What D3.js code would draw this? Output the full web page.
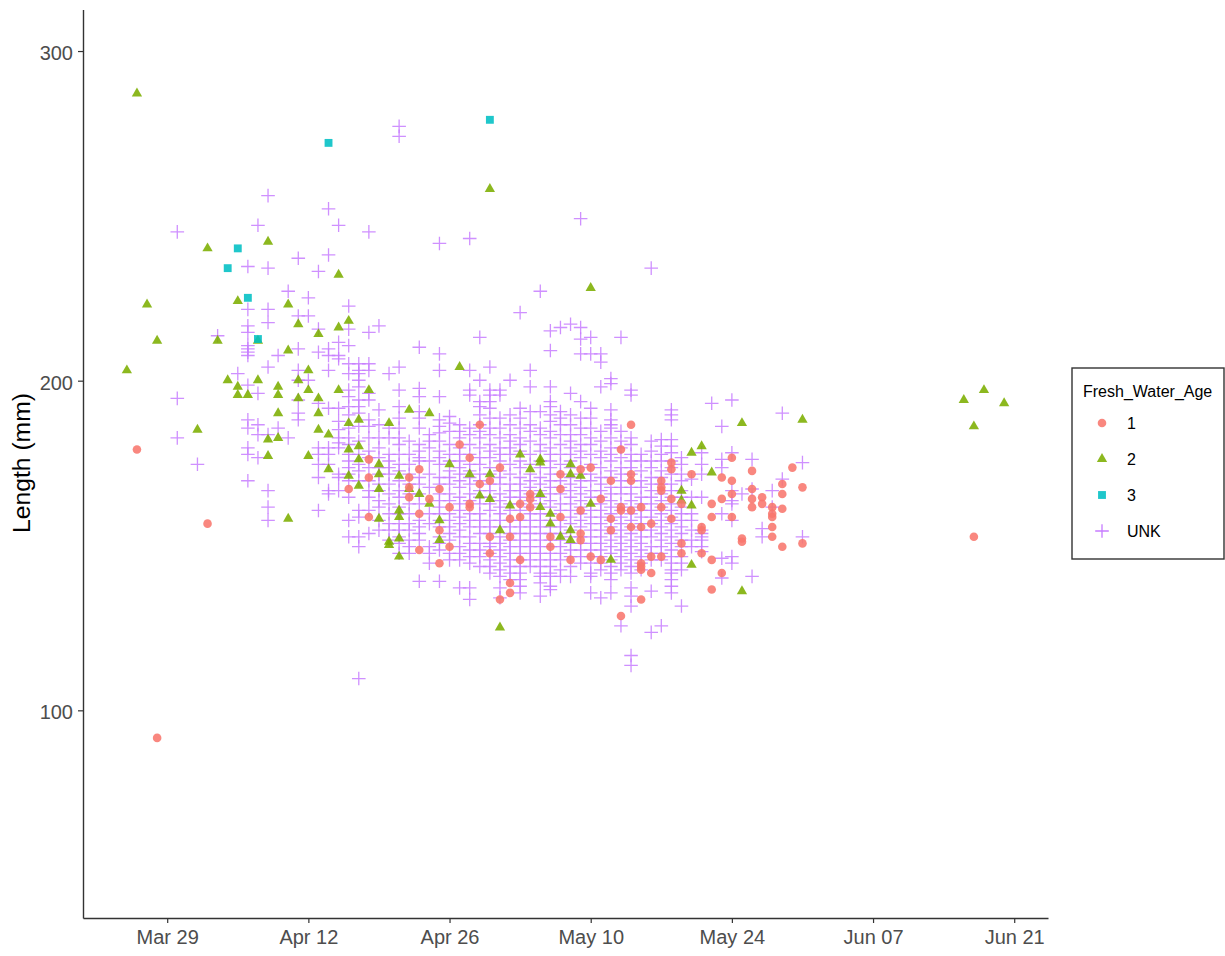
<!DOCTYPE html>
<html>
<head>
<meta charset="utf-8">
<script src="https://cdn.jsdelivr.net/npm/d3@7"></script>
<style>
  body { margin: 0; background: #fff; }
  text { font-family: "Liberation Sans", Arial, sans-serif; }
</style>
</head>
<body>
<svg id="chart" width="1225" height="956"></svg>
<script>
// every row: [days after Mar 29, lengths in mm]
const age1 = [
  [-3, [179.5]], [-1, [92]], [4, [157]],
  [18, [167.5]], [20, [176.5, 171, 159]],
  [24, [171, 168, 165]], [25, [173.5, 160, 149]], [26, [164.5]],
  [27, [167.5, 155, 145]], [28, [162, 150]], [29, [181]], [30, [177, 163, 162]],
  [31, [187, 169]], [32, [170, 153, 148]], [33, [174, 134]],
  [34, [158.5, 153, 139, 136]], [35, [163, 159, 146]], [36, [166, 164.5, 162]],
  [38, [153, 150]], [39, [172, 167.5, 159]], [40, [146]],
  [41, [173.5, 161, 154, 152]], [42, [174, 147]], [43, [164.5, 146]],
  [44, [170, 158.5, 155]], [45, [179.5, 162, 161, 129]],
  [46, [187, 172, 170, 161, 156]], [47, [162, 156, 145, 144, 143, 134]],
  [48, [157, 147, 142]], [49, [170, 168, 167, 162, 147]],
  [50, [175.5, 173.5, 164.5, 158.5]], [51, [163, 151, 148]], [52, [172]],
  [53, [156, 155, 148]], [54, [163, 159, 146, 137]], [55, [171, 164.5, 142]],
  [56, [177, 170, 166, 159]], [57, [152.5, 151.5]], [58, [173, 167.5, 164.5, 162]],
  [59, [165, 163]], [60, [162, 160, 159, 156, 153]], [61, [169, 166, 161.5, 150]],
  [62, [174]], [63, [168, 151]], [80, [153]]
];

const age2 = [
  [-4, [203.5]], [-3, [287.5]], [-2, [223.5]], [-1, [212.5]], [3, [185.5]],
  [4, [240.5]], [5, [212.5]], [6, [200.5]], [7, [224.5, 198.5, 196]], [8, [196]],
  [9, [212.5, 200.5]], [10, [242.5, 182.5, 177.5]], [11, [198.5, 196, 190.5, 183]],
  [12, [223.5, 209.5, 158.5]], [13, [217.5, 200.5, 195]], [14, [203.5, 197.5, 177.5]],
  [15, [214.5, 195, 190.5, 185.5]], [16, [184, 173.5]], [17, [232.5, 216.5, 197.5]],
  [18, [218.5, 187.5, 179.5, 171.5]], [19, [188.5, 180.5, 176.5, 168.5]],
  [20, [197.5]], [21, [175, 172, 167.5, 158.5]], [22, [187.5, 151.5, 150.5]],
  [23, [171.5, 161, 159, 152.5, 147]], [24, [191.5, 167.5]], [25, [166]],
  [26, [190.5, 163]], [27, [158, 152]], [28, [175]], [29, [204.5]], [30, [172]],
  [31, [165.5]], [32, [258.5, 172, 164.5]], [33, [155, 125.5]], [34, [162.5]],
  [35, [178]], [36, [173.5]], [37, [176.5, 175.5, 166, 162]], [38, [160, 157]],
  [39, [153]], [40, [175, 172, 155, 152]], [41, [171.5]], [42, [228.5, 163]],
  [44, [146]], [51, [167, 164]], [52, [178.5, 162.5, 144.5]], [53, [180.5]],
  [54, [172.5]], [57, [187.5, 136.5]], [63, [188.5]],
  [79, [194.5]], [80, [186.5]], [81, [197.5]], [83, [193.5]]
];

const age3 = [
  [6, [234.5]], [7, [240.5]], [8, [225.5]], [9, [213]], [16, [272.5]], [32, [279.5]]
];

const ageUnk = [
  [1, [245.5, 195, 183]], [3, [175]], [5, [214]], [7, [202.5]],
  [8, [235, 222, 217, 215, 211, 210, 209, 208, 199, 188.5, 186, 180, 178, 170]],
  [9, [247.5, 196.5, 187, 184, 177]],
  [10, [256.5, 234.5, 222, 218, 204.5, 184, 167, 162, 158]],
  [11, [208, 186]], [12, [227.5, 183]],
  [13, [237.5, 220, 210, 203.5, 200.5, 194.5, 190.5, 188.5]],
  [14, [225.5, 220, 200.5]],
  [15, [233.5, 216, 209, 193.5, 180, 178, 175, 171, 161]],
  [16, [252.5, 238.5, 210, 208, 203.5, 192, 180, 178, 175, 167, 166]],
  [17, [247.5, 212, 208, 207, 192, 188, 185.5, 183, 181.5, 180, 172, 171, 167]],
  [18, [223, 216, 211, 205.5, 202.5, 197.5, 195.5, 192.5, 190, 186, 183, 181, 178, 176, 174, 172, 170, 165, 158, 153]],
  [19, [205.5, 203.5, 202.5, 200.5, 198.5, 194.5, 192.5, 190.5, 186.5, 182, 178, 175, 173, 170, 161, 159, 153, 150, 110]],
  [20, [245.5, 215, 205.5, 203.5, 196.5, 194.5, 188.5, 186.5, 183, 179, 177, 174, 170, 167, 165, 161, 154]],
  [21, [217, 191.5, 187, 183, 180, 177, 174, 172, 169, 167, 164, 162, 158, 155]],
  [22, [202.5, 186, 183, 178, 176, 174, 172, 169, 166, 163, 160, 157, 155, 152]],
  [23, [277.5, 274.5, 204.5, 197.5, 192.5, 189, 186, 183, 181, 178, 175, 173, 170, 167, 165, 162, 160, 157, 155, 153, 151, 148]],
  [24, [182, 178, 175, 172, 169, 166, 163, 160, 157, 155, 152, 150, 148]],
  [25, [210.5, 198, 195.5, 191, 189, 186, 181, 179, 177, 176, 171, 169, 166, 163, 158, 156, 154, 152, 139.5]],
  [26, [184, 182, 180, 176, 172, 168, 160, 157, 150, 148, 145]],
  [27, [242, 208.5, 203.5, 195.5, 188.5, 186.5, 184.5, 182, 179, 177, 175, 171, 169, 166, 164, 162, 160, 158, 156, 153, 151, 149, 139.5]],
  [28, [189.5, 187.5, 185, 181, 178, 176, 173, 171, 169, 166, 164, 160, 158, 156, 154, 152, 148, 146]],
  [29, [187, 185, 183, 180, 178, 176, 174, 172, 170, 168, 165, 163, 161, 159, 157, 155, 153, 150, 148, 146, 137.5]],
  [30, [243.5, 203.5, 197.5, 196, 186, 184, 181, 178, 175, 173, 171, 169, 166, 164, 160, 158, 156, 153, 151, 149, 147, 145, 137.5, 134]],
  [31, [213.5, 200.5, 194, 192.5, 190, 187, 185, 183, 180, 177, 175, 172, 170, 167, 165, 163, 160, 158, 156, 154, 151, 149, 147, 144]],
  [32, [204.5, 197.5, 196, 194, 192, 189, 186, 184, 181, 179, 177, 174, 172, 169, 167, 165, 163, 161, 158, 156, 154, 151, 150, 148, 146, 144, 142]],
  [33, [197.5, 196, 189, 186, 183, 180, 178, 176, 173, 171, 169, 166, 164, 162, 160, 158, 156, 153, 151, 149, 147, 145, 143, 141, 137.5, 134.5]],
  [34, [200.5, 190, 187, 184, 182, 180, 178, 175, 172, 169, 167, 165, 163, 161, 158, 156, 154, 152, 150, 148, 146, 144, 142, 140]],
  [35, [221, 192, 189, 186, 183, 181, 179, 176, 174, 171, 169, 167, 165, 163, 161, 158, 156, 154, 152, 150, 148, 146, 144, 142, 140, 138, 136]],
  [36, [203.5, 198.5, 191, 187, 185, 182, 178, 175, 172, 170, 168, 166, 164, 162, 160, 158, 156, 154, 152, 150, 148, 146, 144]],
  [37, [227.5, 191, 186, 184, 181, 179, 176, 174, 171, 169, 167, 165, 163, 160, 158, 156, 154, 152, 150, 148, 146, 144, 142, 141, 139, 135]],
  [38, [215.5, 209.5, 198.5, 194, 192.5, 190, 188, 185, 183, 180, 178, 176, 174, 172, 170, 168, 166, 164, 162, 160, 158, 156, 154, 152, 150, 148, 146, 144, 142, 141, 138, 137]],
  [39, [216.5, 191, 189, 187, 184, 181, 178, 175, 172, 170, 168, 166, 163, 161, 158, 156, 154, 152, 150, 148, 146, 143, 141]],
  [40, [217.5, 196.5, 190, 187, 184, 182, 180, 178, 176, 174, 171, 169, 167, 165, 163, 161, 159, 157, 155, 153, 151, 149, 147, 144, 141]],
  [41, [249.5, 216.5, 213, 208.5, 194, 189, 186, 184, 181, 179, 177, 174, 172, 170, 168, 166, 164, 162, 160, 158, 156, 153, 151, 149, 147, 145]],
  [42, [213.5, 208.5, 192, 189, 186, 183, 181, 178, 175, 172, 170, 167, 165, 163, 161, 159, 157, 155, 153, 151, 149, 147, 145, 142, 141, 136]],
  [43, [208.5, 206, 198.5, 185, 182, 179, 177, 174, 171, 169, 167, 165, 163, 161, 159, 157, 155, 153, 151, 149, 147, 145, 143, 134.5]],
  [44, [201, 199.5, 191.5, 188.5, 187, 186, 183, 180, 178, 176, 173, 171, 168, 166, 164, 162, 160, 158, 156, 154, 152, 150, 148, 146, 144, 142, 140, 136]],
  [45, [213.5, 185, 182, 180, 177, 174, 172, 170, 168, 166, 163, 161, 159, 157, 155, 153, 151, 149, 147, 145, 143, 126]],
  [46, [197.5, 196, 183, 181, 178, 176, 174, 172, 170, 168, 166, 164, 162, 160, 158, 156, 154, 152, 150, 148, 146, 144, 142, 137.5, 135, 132, 117, 114]],
  [47, [178, 176, 173, 170, 168, 165, 163, 161, 159, 157, 155, 153, 151, 149, 147, 145, 143]],
  [48, [234.5, 182, 179, 176, 174, 171, 169, 167, 165, 163, 161, 159, 157, 155, 153, 150, 148, 146, 136.5, 124]],
  [49, [182.5, 180.5, 178, 176, 173, 171, 169, 166, 164, 162, 160, 158, 156, 154, 152, 150, 148, 146, 126]],
  [50, [191.5, 190, 188.5, 182.5, 180.5, 178.5, 176, 174, 172, 169, 167, 165, 163, 161, 159, 157, 155, 153, 151, 149, 147, 145, 143, 142, 140, 138, 136]],
  [51, [177, 175, 172, 170, 167, 165, 162, 160, 158, 156, 154, 152, 150, 147, 145, 143, 132]],
  [52, [170.5, 165, 160, 158, 155, 152, 150]],
  [53, [178.5, 175, 172, 165, 155, 154, 153, 152, 150, 148.5]],
  [54, [193.5]], [55, [186.5, 176.5, 174, 160, 146.5, 140.5]],
  [56, [194.5, 178.5, 167, 164, 163, 158, 147, 145]], [57, [166]],
  [58, [176.5, 167.5, 141]], [59, [155.5, 153]], [60, [167, 162]],
  [61, [190.5, 170.5]], [63, [175.5, 153]]
];

const xTickDays = [0, 14, 28, 42, 56, 70, 84];
const yTicks = [100, 200, 300];
const yDomain = [37, 312.6];
const legendLabels = ["1", "2", "3", "UNK"];
const colours = ["#F8766D", "#7CAE00", "#00BFC4", "#C77CFF"];

const firstDay = new Date(Date.UTC(2019, 2, 29));
const toDate = (d) => d3.utcDay.offset(firstDay, d);
const flatten = (rows) => rows.flatMap((r) => r[1].map((len) => ({ date: toDate(r[0]), len })));

const svg = d3.select("#chart");
const plot = { left: 83, right: 1048, top: 9.5, bottom: 918 };

const allDays = [age1, age2, age3, ageUnk].flat().map((r) => r[0]);
const dayPad = (d3.max(allDays) - d3.min(allDays)) * 0.05;
const x = d3.scaleUtc()
  .domain([d3.min(allDays) - dayPad, d3.max(allDays) + dayPad].map((d) => new Date(+firstDay + d * 864e5)))
  .range([plot.left, plot.right]);

const y = d3.scaleLinear()
  .domain(yDomain)
  .range([plot.bottom, plot.top]);

const yNudge = 1.2; // values were read slightly high against the ticks

const plusPath = (r) => `M${-r},0H${r}M0,${-r}V${r}`;
const shapes = [
  d3.symbol().type(d3.symbolCircle).size(58)(),
  d3.symbol().type(d3.symbolTriangle).size(46)(),
  d3.symbol().type(d3.symbolSquare).size(62)(),
  plusPath(6.8)
];

const drawSeries = (rows, i) => {
  const g = svg.append("g").attr("class", "series-" + i);
  const marks = g.selectAll("path")
    .data(flatten(rows))
    .join("path")
    .attr("d", shapes[i])
    .attr("transform", (d) => `translate(${x(d.date)},${y(d.len) + yNudge})`);
  if (i === 3) {
    marks.attr("fill", "none").attr("stroke", colours[i]).attr("stroke-width", 1.3).attr("stroke-opacity", 0.85);
  } else {
    marks.attr("fill", colours[i]).attr("fill-opacity", 0.88);
  }
};

drawSeries(ageUnk, 3);
drawSeries(age2, 1);
drawSeries(age3, 2);
drawSeries(age1, 0);

// axes
const xAxis = svg.append("g")
  .attr("transform", `translate(0,${plot.bottom})`)
  .call(d3.axisBottom(x)
    .tickValues(xTickDays.map(toDate))
    .tickFormat(d3.utcFormat("%b %d"))
    .tickSizeInner(5)
    .tickSizeOuter(0)
    .tickPadding(7));

const yAxis = svg.append("g")
  .attr("transform", `translate(${plot.left},0)`)
  .call(d3.axisLeft(y)
    .tickValues(yTicks)
    .tickSizeInner(5)
    .tickSizeOuter(0)
    .tickPadding(5));

[xAxis, yAxis].forEach((a) => {
  a.select(".domain").attr("stroke", "#333").attr("stroke-width", 1.4);
  a.selectAll(".tick line").attr("stroke", "#333").attr("stroke-width", 1.2);
  a.selectAll(".tick text").attr("fill", "#4D4D4D").style("font-size", "20px").style("font-family", '"Liberation Sans", Arial, sans-serif');
});
yAxis.selectAll(".tick text").attr("dy", "0.42em");

svg.append("text")
  .attr("transform", "translate(30,463) rotate(-90)")
  .attr("text-anchor", "middle")
  .attr("fill", "#000")
  .attr("font-size", 24.7)
  .text("Length (mm)");

// legend
const legend = svg.append("g");
legend.append("rect")
  .attr("x", 1072).attr("y", 368).attr("width", 152).attr("height", 191)
  .attr("fill", "#fff").attr("stroke", "#333").attr("stroke-width", 1.4);
legend.append("text")
  .attr("x", 1083).attr("y", 397)
  .attr("font-size", 16).attr("fill", "#000")
  .text("Fresh_Water_Age");

const keyY = d3.scalePoint().domain(legendLabels).range([423, 531]);
const keys = legend.selectAll(".key")
  .data(legendLabels)
  .join("g")
  .attr("class", "key")
  .attr("transform", (d) => `translate(1102,${keyY(d)})`);
keys.append("path")
  .attr("d", (d, i) => shapes[i])
  .attr("fill", (d, i) => i === 3 ? "none" : colours[i])
  .attr("fill-opacity", 0.88)
  .attr("stroke", (d, i) => i === 3 ? colours[i] : "none")
  .attr("stroke-width", 1.3);
keys.append("text")
  .attr("x", 25).attr("y", 6)
  .attr("font-size", 16).attr("fill", "#000")
  .text((d) => d);
</script>
</body>
</html>
